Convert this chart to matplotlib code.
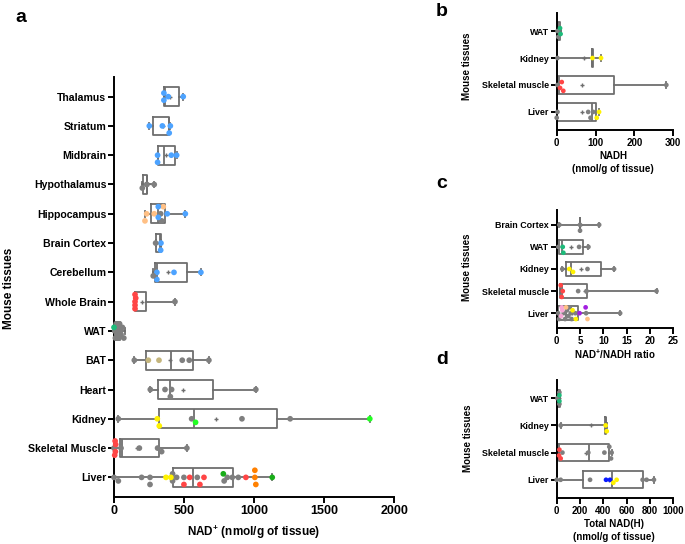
import matplotlib
matplotlib.use("Agg")
import matplotlib.pyplot as plt
import numpy as np

plt.rcParams['font.family'] = ['Liberation Sans', 'DejaVu Sans']
plt.rcParams['font.weight'] = 'bold'
plt.rcParams['mathtext.fontset'] = 'custom'
plt.rcParams['mathtext.rm'] = 'Liberation Sans:bold'
plt.rcParams['mathtext.bf'] = 'Liberation Sans:bold'
plt.rcParams['mathtext.it'] = 'Liberation Sans:bold'

PALETTE = {'G': '#7f7f7f', 'B': '#4da3ff', 'O': '#ffc085', 'R': '#ff4545',
           'E': '#1dbb7a', 'T': '#c4b57c', 'Y': '#fff200', 'L': '#22ff22',
           'D': '#19ad19', 'N': '#ff8000', 'P': '#f7a6d6', 'V': '#a31fe0',
           'K': '#0a1aff'}

# ---------------- panel a: NAD+ ----------------
a_categories = ['Thalamus', 'Striatum', 'Midbrain', 'Hypothalamus', 'Hippocampus',
                'Brain Cortex', 'Cerebellum', 'Whole Brain', 'WAT', 'BAT', 'Heart',
                'Kidney', 'Skeletal Muscle', 'Liver']
a_values = [
    [387, 356, 356, 494],
    [252, 345, 402, 394],
    [311, 311, 409, 447],
    [233, 202, 287],
    [333, 340, 233, 221, 287, 352, 380, 316, 316, 509],
    [335, 333, 297],
    [306, 306, 280, 428, 620],
    [435, 150, 150, 150, 150, 155],
    [5, 10, 15, 20, 25, 30, 35, 40, 50, 60, 70, 20, 30, 45, 0],
    [145, 487, 537, 677, 245, 321],
    [259, 364, 411, 402, 1012],
    [31, 554, 913, 1257, 309, 323, 582, 1825],
    [0, 50, 181, 311, 340, 520, 5, 8, 10, 12],
    [0, 31, 197, 257, 257, 447, 418, 418, 499, 594, 808, 786, 844, 887,
     371, 406, 499, 540, 613, 642, 941, 780, 1129, 1005, 1012, 1005],
]
a_colors = ['BBBB', 'BBBB', 'BBBB', 'GGG', 'GGOOOOBBBB', 'BBG', 'BBGBB', 'GRRRRR',
            'GGGGGGGGGGGGGGE', 'GGGGTT', 'GGGGG', 'GGGGYYLL', 'GGGGGGRRRR',
            'GGGGGGGGGGGGGGYYRRRRRDDNNN']
a_q1 = [356, 280, 311, 205, 261, 300, 290, 150, 10, 226, 316, 321, 43, 423]
a_med = [364, 390, 356, 233, 316, 330, 306, 152, 25, 404, 397, 573, 55, 566]
a_q3 = [461, 395, 435, 237, 364, 335, 522, 226, 45, 565, 708, 1164, 321, 851]
a_lo = [356, 252, 311, 202, 221, 297, 280, 150, 0, 145, 259, 31, 0, 0]
a_hi = [494, 402, 447, 287, 509, 335, 620, 435, 75, 677, 1012, 1825, 520, 1129]
a_mean = [398, 348, 370, 240, 330, 322, 387, 197, 30, 402, 490, 727, 162, 590]
a_xticks = [0, 500, 1000, 1500, 2000]

# ---------------- panel b: NADH ----------------
b_categories = ['WAT', 'Kidney', 'Skeletal muscle', 'Liver']
b_values = [[2, 4, 8.6, 10], [2, 92, 114], [2, 282, 8.6, 13, 17],
            [2, 0, 81, 87, 94, 109, 103]]
b_colors = ['GGEE', 'GYY', 'GGRRR', 'GGGGGYY']
b_q1 = [2, 90, 2, 2]
b_med = [4, 92, 5, 90]
b_q3 = [8, 94, 147, 100]
b_lo = [2, 2, 2, 0]
b_hi = [10, 114, 282, 109]
b_mean = [6, 70, 64, 66]
b_xticks = [0, 100, 200, 300]

# ---------------- panel c: NAD+/NADH ratio ----------------
c_categories = ['Brain Cortex', 'WAT', 'Kidney', 'Skeletal muscle', 'Liver']
c_values = [[0.57, 5.0, 5.0, 9.1],
            [0.36, 4.8, 6.8, 1.3, 1.43],
            [1.2, 6.6, 12.3, 2.7, 3.5],
            [4.6, 6.4, 21.4, 1.3, 1.07, 0.86],
            [0.3, 0.5, 1.5, 1.8, 2.2, 2.5, 2.8, 3.0, 3.2, 4.0, 6.3, 13.6,
             1.07, 0.93, 1.2, 2.0, 6.6, 3.4, 4.1, 4.9, 6.2]]
c_colors = ['GGGG', 'GGGEE', 'GGGYY', 'GGGRRR', 'GGGGGGGGGGGGPPPOOYYVV']
c_q1 = [4.9, 0.57, 2.0, 0.7, 0.36]
c_med = [5.0, 1.1, 3.0, 1.1, 2.1]
c_q3 = [5.1, 5.7, 9.4, 6.4, 4.6]
c_lo = [0.57, 0.36, 1.2, 0.7, 0.3]
c_hi = [9.1, 6.8, 12.3, 21.4, 13.6]
c_mean = [4.9, 3.0, 5.2, 6.0, 3.2]
c_xticks = [0, 5, 10, 15, 20, 25]

# ---------------- panel d: Total NAD(H) ----------------
d_categories = ['WAT', 'Kidney', 'Skeletal muscle', 'Liver']
d_values = [[6, 23, 23, 23, 23], [34, 420, 429],
            [49, 271, 409, 471, 466, 451, 34, 23, 20],
            [34, 0, 286, 771, 737, 834, 423, 457, 486, 514]]
d_colors = ['GGGEE', 'GYY', 'GGGGGGRRR', 'GGGGGGKKYY']
d_q1 = [10, 415, 23, 226]
d_med = [20, 420, 277, 474]
d_q3 = [25, 425, 451, 743]
d_lo = [6, 34, 20, 0]
d_hi = [25, 429, 471, 834]
d_mean = [18, 291, 249, 451]
d_xticks = [0, 200, 400, 600, 800, 1000]

W, H = 685, 544
fig = plt.figure(figsize=(W / 100, H / 100), dpi=100)


def rect(l, t, r, b):
    return [l / W, 1 - b / H, (r - l) / W, (b - t) / H]


BOXC = '#6e6e6e'


def swarm_offsets(vals, px_per_unit, d_px, row_px, kmax=2):
    placed = []
    offs = []
    order = [0]
    for k in range(1, kmax + 1):
        order += [k, -k]
    step = d_px * 0.62
    need = d_px * 0.8
    for v in vals:
        x = v * px_per_unit
        best, best_d = 0.0, -1.0
        for c in order:
            y = c * step
            md = min([np.hypot(x - px, y - py) for px, py in placed] + [1e9])
            if md >= need:
                best = y
                break
            if md > best_d + 1e-9:
                best_d, best = md, y
        placed.append((x, best))
        offs.append(best / row_px)
    return offs


def panel(rc, cats, vals, cols, q1, med, q3, lo, hi, mean, xticks, ylab_fs, xlab_fs,
          dot_s, capw):
    ax = fig.add_axes(rect(*rc))
    n = len(cats)
    stats = []
    for i in range(n):
        stats.append(dict(q1=q1[i], med=med[i], q3=q3[i], whislo=lo[i], whishi=hi[i],
                          mean=mean[i], fliers=[]))
    lw = 1.3
    ax.bxp(stats, positions=list(range(n)), orientation='horizontal', widths=0.64,
           showmeans=True, capwidths=capw,
           boxprops=dict(color=BOXC, linewidth=lw),
           whiskerprops=dict(color=BOXC, linewidth=lw),
           capprops=dict(color=BOXC, linewidth=lw),
           medianprops=dict(color=BOXC, linewidth=lw),
           meanprops=dict(marker='+', markeredgecolor=BOXC, markersize=3.5,
                          markeredgewidth=1.0))
    xmin, xmax = xticks[0], xticks[-1]
    ax.set_xlim(xmin, xmax)
    ax.set_ylim(n - 1 + 0.67, -0.67)
    width_px = rc[2] - rc[0]
    row_px = (rc[3] - rc[1]) / (n + 0.34)
    px_per_unit = width_px / (xmax - xmin)
    d_px = np.sqrt(dot_s) * 100 / 72
    for i in range(n):
        v = vals[i]
        offs = swarm_offsets(v, px_per_unit, d_px, row_px)
        ax.scatter(v, [i + o for o in offs], s=dot_s,
                   c=[PALETTE[ch] for ch in cols[i]], edgecolors='none', zorder=5,
                   clip_on=False)
    ax.set_yticks(range(n))
    ax.set_yticklabels(cats, fontsize=ylab_fs, fontweight='bold')
    ax.set_xticks(xticks)
    ax.set_xticklabels([str(t) for t in xticks], fontsize=xlab_fs, fontweight='bold')
    for s in ['top', 'right']:
        ax.spines[s].set_visible(False)
    for s in ['left', 'bottom']:
        ax.spines[s].set_linewidth(1.4)
    ax.tick_params(axis='both', width=1.4, length=4, pad=1.5)
    return ax


panel((114, 77, 394.3, 497), a_categories, a_values, a_colors, a_q1, a_med, a_q3,
      a_lo, a_hi, a_mean, a_xticks, 7.6, 9, 17, 0.2)
panel((556.7, 13, 673.3, 130), b_categories, b_values, b_colors, b_q1, b_med, b_q3,
      b_lo, b_hi, b_mean, b_xticks, 6.4, 7, 11.5, 0.2)
panel((556.7, 210, 673.3, 328), c_categories, c_values, c_colors, c_q1, c_med, c_q3,
      c_lo, c_hi, c_mean, c_xticks, 6.4, 7, 11.5, 0.2)
panel((556.7, 380, 673.3, 498), d_categories, d_values, d_colors, d_q1, d_med, d_q3,
      d_lo, d_hi, d_mean, d_xticks, 6.4, 7, 11.5, 0.2)


def ftext(x, y, s, **kw):
    fig.text(x / W, 1 - y / H, s, ha='center', va='center', fontweight='bold', **kw)


ftext(9, 288, 'Mouse tissues', fontsize=8.5, rotation=90)
ftext(254, 532, r'NAD$^{+}$ (nmol/g of tissue)', fontsize=8.5)
ftext(467, 66, 'Mouse tissues', fontsize=7, rotation=90)
ftext(613, 156, 'NADH', fontsize=7)
ftext(613, 169, '(nmol/g of tissue)', fontsize=7)
ftext(467, 267, 'Mouse tissues', fontsize=7, rotation=90)
ftext(615, 354, r'NAD$^{+}$/NADH ratio', fontsize=7)
ftext(468, 438, 'Mouse tissues', fontsize=7, rotation=90)
ftext(614, 524, 'Total NAD(H)', fontsize=7)
ftext(614, 537, '(nmol/g of tissue)', fontsize=7)

ftext(21, 18, 'a', fontsize=14)
ftext(442, 11, 'b', fontsize=14)
ftext(442, 183, 'c', fontsize=14)
ftext(442, 360, 'd', fontsize=14)

fig.savefig('out.png', dpi=100)
